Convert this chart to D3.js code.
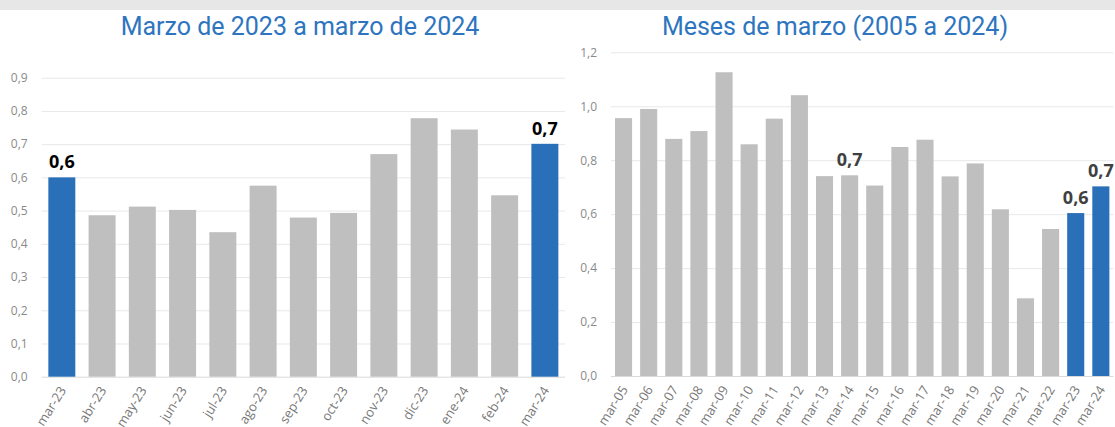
<!DOCTYPE html>
<html lang="es">
<head>
  <meta charset="UTF-8">
  <title>Marzo</title>
</head>
<body>
<style>
  * {
    padding: 0;
    margin: 0;
  }

  body {
    background: #fff;
  }

  #app {
    width: 1115px;
    height: 427px;
  }
</style>

<div id="app"></div>

<script src="https://cdn.jsdelivr.net/npm/d3@7/dist/d3.min.js"></script>
<script>
  // datos: marzo 2023 - marzo 2024
  var leftCats = ["mar-23", "abr-23", "may-23", "jun-23", "jul-23", "ago-23", "sep-23",
    "oct-23", "nov-23", "dic-23", "ene-24", "feb-24", "mar-24"];
  var leftValues = [0.600, 0.486, 0.512, 0.502, 0.435, 0.575, 0.479,
    0.493, 0.670, 0.778, 0.744, 0.546, 0.701];
  var leftTicks = [0, 0.1, 0.2, 0.3, 0.4, 0.5, 0.6, 0.7, 0.8, 0.9];
  var leftBlue = ["mar-23", "mar-24"];
  var leftLabeled = ["mar-23", "mar-24"];

  // datos: meses de marzo 2005 - 2024
  var rightCats = ["mar-05", "mar-06", "mar-07", "mar-08", "mar-09", "mar-10", "mar-11",
    "mar-12", "mar-13", "mar-14", "mar-15", "mar-16", "mar-17", "mar-18", "mar-19",
    "mar-20", "mar-21", "mar-22", "mar-23", "mar-24"];
  var rightValues = [0.956, 0.990, 0.879, 0.908, 1.126, 0.859, 0.954,
    1.041, 0.741, 0.744, 0.706, 0.849, 0.876, 0.740, 0.788,
    0.618, 0.288, 0.545, 0.604, 0.703];
  var rightTicks = [0, 0.2, 0.4, 0.6, 0.8, 1.0, 1.2];
  var rightBlue = ["mar-23", "mar-24"];
  var rightLabeled = ["mar-14", "mar-23", "mar-24"];

  var fmt = function (v) { return d3.format(".1f")(v).replace(".", ","); };

  var svg = d3.select('#app').append("svg")
    .attr("width", 1115).attr("height", 427)
    .attr("viewBox", "0,0 1115,427");

  // franja gris de arriba
  svg.append("rect").attr("x", 0).attr("y", 0).attr("width", 1115).attr("height", 10)
    .attr("fill", "#e7e7e7");

  function drawChart(opt) {
    var x = d3.scaleBand().domain(opt.cats).range([opt.x0, opt.x1])
      .paddingInner(opt.pad).paddingOuter(opt.pad / 2);
    var y = d3.scaleLinear().domain([0, opt.max]).range([opt.y0, opt.y1]);

    var g = svg.append("g");

    // titulo
    g.append("text")
      .attr("x", opt.titleX).attr("y", 35)
      .attr("text-anchor", "middle")
      .attr("font-family", "Roboto, sans-serif")
      .attr("font-size", 25)
      .attr("fill", "#2e75c0")
      .text(opt.title);

    // eje y + lineas de cuadricula
    var yAxis = g.append("g")
      .attr("transform", "translate(" + opt.x0 + ",0)")
      .call(d3.axisLeft(y).tickValues(opt.ticks).tickFormat(fmt)
        .tickSize(-(opt.x1 - opt.x0)).tickPadding(opt.tickPad));
    yAxis.select(".domain").remove();
    yAxis.selectAll(".tick line")
      .attr("stroke", function (d) { return d === 0 ? "#d9d9d9" : "#e8e8e8"; })
      .attr("stroke-width", 1);
    yAxis.selectAll(".tick text")
      .attr("font-family", "'Open Sans', sans-serif")
      .attr("font-size", 12)
      .attr("fill", "#8a8a8a");

    // barras
    g.selectAll(".bar").data(opt.cats).enter().append("rect")
      .attr("class", "bar")
      .attr("x", function (d) { return x(d); })
      .attr("width", x.bandwidth())
      .attr("y", function (d, i) { return y(opt.values[i]); })
      .attr("height", function (d, i) { return opt.y0 - y(opt.values[i]); })
      .attr("fill", function (d) { return opt.blue.indexOf(d) >= 0 ? "#2a70b8" : "#bfbfbf"; });

    // etiquetas de valor
    g.selectAll(".lbl").data(opt.cats.filter(function (d) { return opt.labeled.indexOf(d) >= 0; }))
      .enter().append("text")
      .attr("class", "lbl")
      .attr("x", function (d) { return x(d) + x.bandwidth() / 2; })
      .attr("y", function (d) { return y(opt.values[opt.cats.indexOf(d)]) - 9; })
      .attr("text-anchor", "middle")
      .attr("font-family", "'Open Sans', sans-serif")
      .attr("font-weight", "bold")
      .attr("font-size", 18)
      .attr("fill", opt.labelColor)
      .text(function (d) { return fmt(opt.values[opt.cats.indexOf(d)]); });

    // etiquetas del eje x (giradas)
    g.selectAll(".xl").data(opt.cats).enter().append("text")
      .attr("class", "xl")
      .attr("transform", function (d) {
        return "translate(" + (x(d) + x.bandwidth() / 2 + 1) + "," + (opt.y0 + 11) + ") rotate(-58)";
      })
      .attr("text-anchor", "end")
      .attr("dy", "0.35em")
      .attr("font-family", "'Open Sans', sans-serif")
      .attr("font-size", 13)
      .attr("fill", "#777")
      .text(function (d) { return d; });
  }

  drawChart({
    cats: leftCats, values: leftValues, ticks: leftTicks, blue: leftBlue, labeled: leftLabeled,
    x0: 41.7, x1: 565, y0: 376.7, y1: 77.7, max: 0.9, pad: 0.33, tickPad: 14,
    title: "Marzo de 2023 a marzo de 2024", titleX: 300, labelColor: "#000"
  });

  drawChart({
    cats: rightCats, values: rightValues, ticks: rightTicks, blue: rightBlue, labeled: rightLabeled,
    x0: 611, x1: 1113.4, y0: 376, y1: 52.3, max: 1.2, pad: 0.32, tickPad: 14,
    title: "Meses de marzo (2005 a 2024)", titleX: 835, labelColor: "#404040"
  });
</script>

</body>
</html>
